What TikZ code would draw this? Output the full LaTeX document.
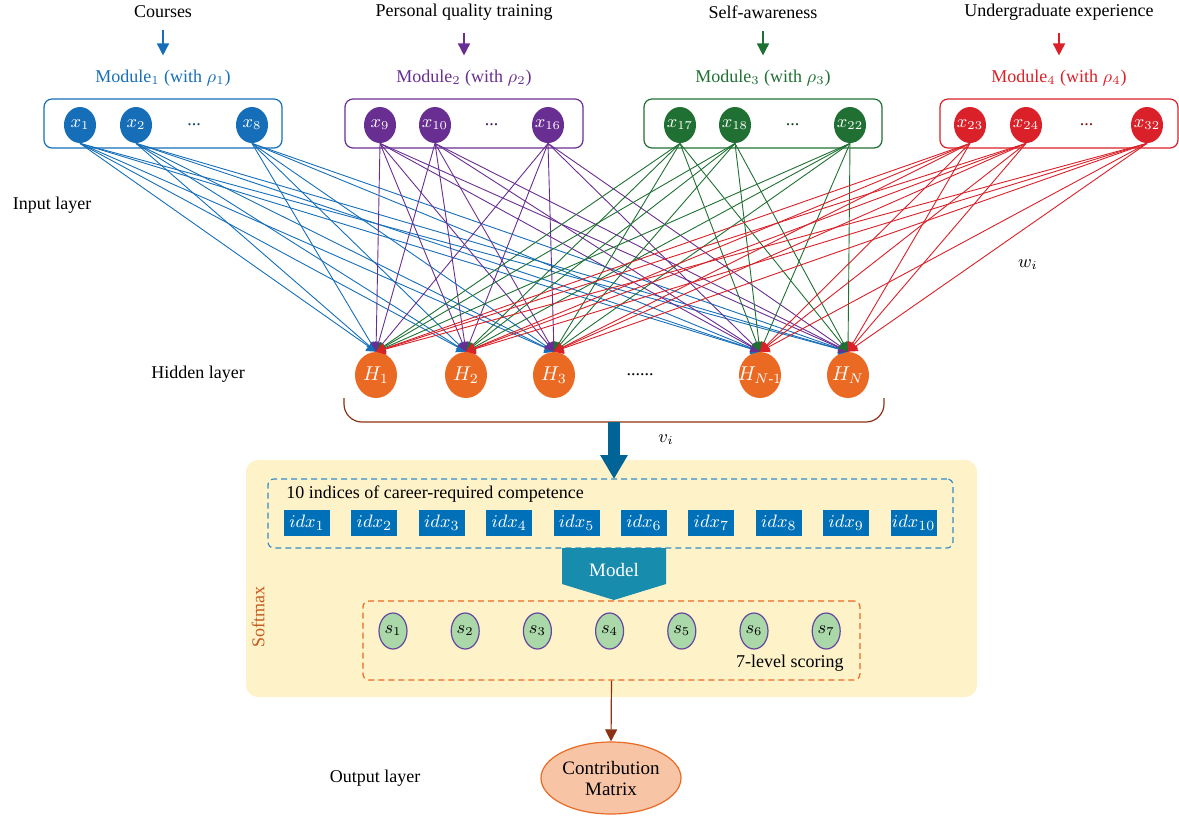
\documentclass[tikz,border=0pt]{standalone}
\usepackage{amsmath}
\usepackage{fontspec}
\setmainfont{Liberation Serif}
\usepackage{tikz}
\usetikzlibrary{arrows.meta,positioning,shapes.geometric}

\definecolor{cblue}{RGB}{22,110,184}
\definecolor{cpurple}{RGB}{104,46,145}
\definecolor{cgreen}{RGB}{31,112,50}
\definecolor{cred}{RGB}{218,32,40}
\definecolor{corange}{RGB}{234,106,35}
\definecolor{cyellow}{RGB}{254,242,200}
\definecolor{cidx}{RGB}{0,112,185}
\definecolor{cmodel}{RGB}{24,140,172}
\definecolor{cbrown}{RGB}{140,50,20}
\definecolor{csfill}{RGB}{170,216,168}
\definecolor{csdraw}{RGB}{100,70,160}
\definecolor{cout}{RGB}{248,196,166}
\definecolor{csoft}{RGB}{196,90,30}
\definecolor{cfat}{RGB}{0,100,150}

\begin{document}
\begin{tikzpicture}[x=0.5pt, y=-0.5pt,
  txt/.style={font=\fontsize{9}{10}\selectfont, inner sep=1pt},
  innode/.style={ellipse, fill=#1, text=white, inner sep=0pt, minimum width=16pt, minimum height=18pt, font=\fontsize{9}{10}\selectfont},
  modbox/.style={draw=#1, rounded corners=4pt, minimum width=119pt, minimum height=24.5pt, line width=0.6pt},
  hid/.style={ellipse, fill=corange, text=white, inner sep=0pt, minimum width=21pt, minimum height=23pt, font=\fontsize{10}{11}\selectfont},
  edge/.style={draw=#1, line width=0.45pt, -{Triangle[length=4.5pt,width=5.5pt]}},
  idx/.style={fill=cidx, text=white, minimum width=23pt, minimum height=13pt, inner sep=0pt, font=\fontsize{9.5}{10}\selectfont},
  lvl/.style={ellipse, fill=csfill, draw=csdraw, line width=0.6pt, inner sep=0pt, minimum width=14pt, minimum height=18pt, font=\fontsize{9}{10}\selectfont}
]
\useasboundingbox (0,0) rectangle (1179,816);

% hidden layer
\foreach \n/\px/\lb in {1/376/H_1, 2/466/H_2, 3/554/H_3, 4/760/H_{N\text{-}1}, 5/848/H_N}
  \node[hid] (h\n) at (\px,375) {\makebox[0pt]{$\lb$}};
\node[txt] (hdots) at (640,375) {......};

% input modules
\foreach \m/\cl/\cx/\ttl/\a/\b/\c/\na/\nb/\nc in {
  1/cblue/163/Courses/80/136/252/1/2/8,
  2/cpurple/464/Personal quality training/380/435/548/9/10/16,
  3/cgreen/763/Self-awareness/680/735/850/17/18/22,
  4/cred/1059/Undergraduate experience/970/1026/1147/23/24/32} {
  \node[txt] (t\m) at (\cx,12) {\ttl};
  \node[txt, text=\cl] (l\m) at (\cx,78) {Module$_{\m}$ (with $\rho_{\m}$)};
  \draw[\cl, line width=0.8pt, -{Triangle[length=6pt,width=6pt]}, shorten <=5pt, shorten >=6pt] (t\m.south) -- (l\m.north);
  \node[modbox=\cl] (m\m) at (\cx,123.5) {};
  \node[innode=\cl] (x\na) at (\a,125) {\makebox[0pt]{$x_{\na}$}};
  \node[innode=\cl] (x\nb) at (\b,125) {\makebox[0pt]{$x_{\nb}$}};
  \node[innode=\cl] (x\nc) at (\c,125) {\makebox[0pt]{$x_{\nc}$}};
  \node[txt, text=\cl!60!black] at ({(\b+\c)/2},125) {...};
  \foreach \n in {\na,\nb,\nc}
    \foreach \h in {1,...,5}
      \draw[edge=\cl] (x\n.south) -- (h\h.north);
}

\node[txt] (inl) at (52,205) {Input layer};
\node[txt] (hidl) at (198,374) {Hidden layer};
\node[txt] (wi) at (1028,265) {$w_i$};

% brace under hidden layer
\draw[cbrown, line width=0.6pt, rounded corners=9pt] (344,398) -- (344,422) -- (884,422) -- (884,398);
\coordinate (hb) at (614,422);
\node[txt] (vi) at (666,440) {$v_i$};

% softmax block
\node[fill=cyellow, rounded corners=6pt, minimum width=365.5pt, minimum height=118.5pt] (soft) at (611.5,578.5) {};
\node[txt, text=csoft, rotate=90] (smx) at (258,617) {Softmax};
\draw[cfat, line width=6pt, -{Triangle[length=12pt,width=13pt]}] (hb) -- (614,479);

\node[draw=cidx!80!white, dash pattern=on 3pt off 2pt, line width=0.6pt, rounded corners=3pt, minimum width=342.5pt, minimum height=34.5pt] (ibox) at (610.5,513.5) {};
\node[txt, anchor=west] (ittl) at (284,494) {10 indices of career-required competence};
\foreach \i in {1,...,10}
  \node[idx] (idx\i) at ({307+67.4*(\i-1)},523) {$idx_{\i}$};

\fill[cmodel] (562,548) -- (666,548) -- (666,584) -- (614,600) -- (562,584) -- cycle;
\node[text=white, font=\fontsize{9.5}{10}\selectfont] (model) at (614,570) {Model};

\node[draw=corange, dash pattern=on 3pt off 2pt, line width=0.6pt, rounded corners=3pt, minimum width=248.5pt, minimum height=39.5pt] (sbox) at (611.5,640.5) {};
\foreach \i in {1,...,7}
  \node[lvl] (s\i) at ({393+72.2*(\i-1)},631) {$s_{\i}$};
\node[txt, anchor=east] (sttl) at (846,663) {7-level scoring};

% output layer
\node[ellipse, fill=cout, draw=corange, line width=0.6pt, minimum width=70pt, minimum height=36pt, inner sep=0pt, align=center, font=\fontsize{9.5}{10.5}\selectfont] (out) at (611,778) {Contribution\\Matrix};
\draw[cbrown, line width=0.6pt, -{Triangle[length=6pt,width=6pt]}] (sbox.south) -- (out.north);
\node[txt] (outl) at (375,778) {Output layer};
\end{tikzpicture}
\end{document}
